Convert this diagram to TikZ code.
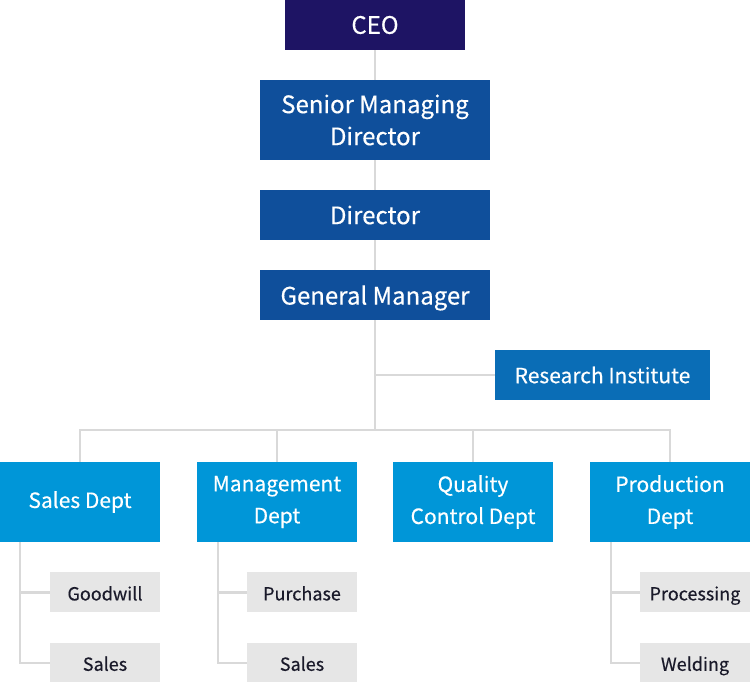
\documentclass[tikz,border=0pt]{standalone}
\usepackage{fontspec}
\setmainfont{Noto Sans CJK KR}[FakeBold=0.4]
\usetikzlibrary{positioning}
\definecolor{ceoblue}{HTML}{1E1464}
\definecolor{headblue}{HTML}{0F4F9B}
\definecolor{labblue}{HTML}{0A6DB6}
\definecolor{deptblue}{HTML}{0096D8}
\definecolor{unitgray}{HTML}{E6E6E6}
\definecolor{linegray}{HTML}{D9D9D9}
\definecolor{unittext}{HTML}{1A1A2A}
\tikzstyle{headbox} = [rectangle, fill=headblue, text=white, align=center, minimum width=230pt, minimum height=50pt, inner sep=0pt, font=\fontsize{24}{32}\selectfont]
\tikzstyle{deptbox} = [rectangle, fill=deptblue, text=white, align=center, minimum width=160pt, minimum height=80pt, inner sep=0pt, font=\fontsize{21}{32}\selectfont]
\tikzstyle{unitbox} = [rectangle, fill=unitgray, text=unittext, minimum width=110pt, minimum height=40pt, inner sep=0pt, text height=17pt, text depth=1pt, font=\fontsize{18}{22}\selectfont]
\tikzstyle{link} = [draw=linegray, line width=2.5pt]

\begin{document}
\begin{tikzpicture}[x=1pt, y=-1pt]
  \useasboundingbox (0,0) rectangle (750,682);
  % top of the chart
  \node[headbox, fill=ceoblue, minimum width=180pt] (ceo) at (375,25) {CEO};
  \node[headbox, below of=ceo, node distance=95pt, minimum height=80pt] (smd) {Senior Managing\\Director};
  \node[headbox, below of=smd, node distance=95pt] (dir) {Director};
  \node[headbox, below of=dir, node distance=80pt, text depth=0pt] (gm) {General Manager};
  \node[headbox, fill=labblue, minimum width=215pt, font=\fontsize{21}{28}\selectfont] (lab) at (602.5,375) {Research Institute};
  \coordinate (bus) at (375,430);
  % departments
  \node[deptbox] (sales) at (80,502) {Sales Dept};
  \node[deptbox] (mgmt) at (277,502) {Management\\Dept};
  \node[deptbox] (qc) at (473,502) {Quality\\Control Dept};
  \node[deptbox] (prod) at (670,502) {Production\\Dept};
  % teams
  \node[unitbox, below left=30pt and 0pt of sales.south east] (goodwill) {Goodwill};
  \node[unitbox, below=30pt of goodwill] (salesteam) {Sales};
  \node[unitbox, below left=30pt and 0pt of mgmt.south east] (purchase) {Purchase};
  \node[unitbox, below=30pt of purchase] (mgmtsales) {Sales};
  \node[unitbox, below left=30pt and 0pt of prod.south east] (processing) {Processing};
  \node[unitbox, below=30pt of processing] (welding) {Welding};
  \draw[link] (ceo) -- (smd);
  \draw[link] (smd) -- (dir);
  \draw[link] (dir) -- (gm);
  \draw[link] (gm) -- (bus);
  \draw[link] (gm.south |- lab) -- (lab);
  \draw[link] (sales.north) |- (bus) -| (prod.north);
  \draw[link] (mgmt.north) -- (mgmt.north |- bus);
  \draw[link] (qc.north) -- (qc.north |- bus);
  \draw[link] ([xshift=20pt]sales.south west) |- (salesteam.west);
  \draw[link] (goodwill.west) -- ([xshift=20pt]sales.south west |- goodwill.west);
  \draw[link] ([xshift=21pt]mgmt.south west) |- (mgmtsales.west);
  \draw[link] (purchase.west) -- ([xshift=21pt]mgmt.south west |- purchase.west);
  \draw[link] ([xshift=21pt]prod.south west) |- (welding.west);
  \draw[link] (processing.west) -- ([xshift=21pt]prod.south west |- processing.west);
\end{tikzpicture}
\end{document}
